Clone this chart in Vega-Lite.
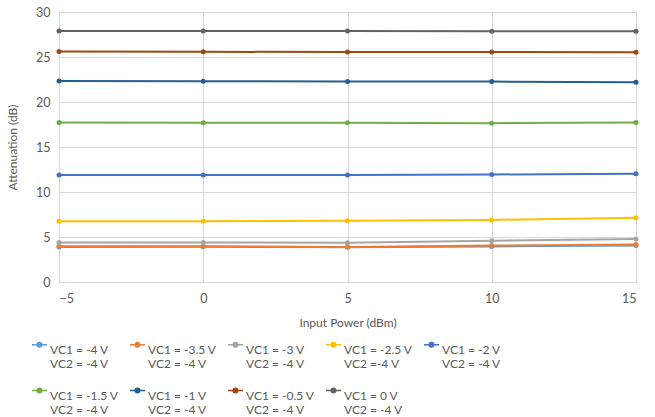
{
  "$schema": "https://vega.github.io/schema/vega-lite/v6.json",
  "width": 577,
  "height": 270,
  "autosize": {"type": "none"},
  "padding": {"left": 59, "top": 12, "right": 19, "bottom": 135},
  "background": "white",
  "config": {
    "font": "Lato",
    "view": {"stroke": null},
    "axis": {"labelFont": "Lato", "titleFont": "Lato", "labelColor": "#595959", "titleColor": "#595959", "labelFontSize": 12.5, "titleFontSize": 12, "titleFontWeight": "normal", "gridColor": "#d9d9d9", "gridWidth": 1, "ticks": false, "domain": false}
  },
  "data": {"values": [
    {"p": -5, "att": 3.9, "s": "VC1 = -4 V|VC2 = -4 V"},
    {"p": 0, "att": 3.92, "s": "VC1 = -4 V|VC2 = -4 V"},
    {"p": 5, "att": 3.85, "s": "VC1 = -4 V|VC2 = -4 V"},
    {"p": 10, "att": 3.95, "s": "VC1 = -4 V|VC2 = -4 V"},
    {"p": 15, "att": 4.05, "s": "VC1 = -4 V|VC2 = -4 V"},
    {"p": -5, "att": 3.97, "s": "VC1 = -3.5 V|VC2 = -4 V"},
    {"p": 0, "att": 3.97, "s": "VC1 = -3.5 V|VC2 = -4 V"},
    {"p": 5, "att": 3.9, "s": "VC1 = -3.5 V|VC2 = -4 V"},
    {"p": 10, "att": 4.05, "s": "VC1 = -3.5 V|VC2 = -4 V"},
    {"p": 15, "att": 4.17, "s": "VC1 = -3.5 V|VC2 = -4 V"},
    {"p": -5, "att": 4.4, "s": "VC1 = -3 V|VC2 = -4 V"},
    {"p": 0, "att": 4.4, "s": "VC1 = -3 V|VC2 = -4 V"},
    {"p": 5, "att": 4.37, "s": "VC1 = -3 V|VC2 = -4 V"},
    {"p": 10, "att": 4.58, "s": "VC1 = -3 V|VC2 = -4 V"},
    {"p": 15, "att": 4.77, "s": "VC1 = -3 V|VC2 = -4 V"},
    {"p": -5, "att": 6.75, "s": "VC1 = -2.5 V|VC2 =-4 V"},
    {"p": 0, "att": 6.75, "s": "VC1 = -2.5 V|VC2 =-4 V"},
    {"p": 5, "att": 6.8, "s": "VC1 = -2.5 V|VC2 =-4 V"},
    {"p": 10, "att": 6.9, "s": "VC1 = -2.5 V|VC2 =-4 V"},
    {"p": 15, "att": 7.15, "s": "VC1 = -2.5 V|VC2 =-4 V"},
    {"p": -5, "att": 11.9, "s": "VC1 = -2 V|VC2 = -4 V"},
    {"p": 0, "att": 11.88, "s": "VC1 = -2 V|VC2 = -4 V"},
    {"p": 5, "att": 11.9, "s": "VC1 = -2 V|VC2 = -4 V"},
    {"p": 10, "att": 11.95, "s": "VC1 = -2 V|VC2 = -4 V"},
    {"p": 15, "att": 12.02, "s": "VC1 = -2 V|VC2 = -4 V"},
    {"p": -5, "att": 17.72, "s": "VC1 = -1.5 V|VC2 = -4 V"},
    {"p": 0, "att": 17.7, "s": "VC1 = -1.5 V|VC2 = -4 V"},
    {"p": 5, "att": 17.7, "s": "VC1 = -1.5 V|VC2 = -4 V"},
    {"p": 10, "att": 17.65, "s": "VC1 = -1.5 V|VC2 = -4 V"},
    {"p": 15, "att": 17.72, "s": "VC1 = -1.5 V|VC2 = -4 V"},
    {"p": -5, "att": 22.32, "s": "VC1 = -1 V|VC2 = -4 V"},
    {"p": 0, "att": 22.3, "s": "VC1 = -1 V|VC2 = -4 V"},
    {"p": 5, "att": 22.28, "s": "VC1 = -1 V|VC2 = -4 V"},
    {"p": 10, "att": 22.27, "s": "VC1 = -1 V|VC2 = -4 V"},
    {"p": 15, "att": 22.2, "s": "VC1 = -1 V|VC2 = -4 V"},
    {"p": -5, "att": 25.6, "s": "VC1 = -0.5 V|VC2 = -4 V"},
    {"p": 0, "att": 25.58, "s": "VC1 = -0.5 V|VC2 = -4 V"},
    {"p": 5, "att": 25.55, "s": "VC1 = -0.5 V|VC2 = -4 V"},
    {"p": 10, "att": 25.55, "s": "VC1 = -0.5 V|VC2 = -4 V"},
    {"p": 15, "att": 25.52, "s": "VC1 = -0.5 V|VC2 = -4 V"},
    {"p": -5, "att": 27.9, "s": "VC1 = 0 V|VC2 = -4 V"},
    {"p": 0, "att": 27.9, "s": "VC1 = 0 V|VC2 = -4 V"},
    {"p": 5, "att": 27.88, "s": "VC1 = 0 V|VC2 = -4 V"},
    {"p": 10, "att": 27.87, "s": "VC1 = 0 V|VC2 = -4 V"},
    {"p": 15, "att": 27.85, "s": "VC1 = 0 V|VC2 = -4 V"}
  ]},
  "encoding": {
    "x": {"field": "p", "type": "quantitative", "scale": {"domain": [-5, 15], "nice": false, "zero": false}, "axis": {"values": [-5, 0, 5, 10, 15], "title": "Input Power (dBm)", "labelPadding": 10, "titlePadding": 13}},
    "y": {"field": "att", "type": "quantitative", "scale": {"domain": [0, 30], "nice": false}, "axis": {"values": [0, 5, 10, 15, 20, 25, 30], "title": "Attenuation (dB)", "labelPadding": 9, "titlePadding": 16}},
    "color": {
      "field": "s", "type": "nominal",
      "scale": {
        "domain": ["VC1 = -4 V|VC2 = -4 V", "VC1 = -3.5 V|VC2 = -4 V", "VC1 = -3 V|VC2 = -4 V", "VC1 = -2.5 V|VC2 =-4 V", "VC1 = -2 V|VC2 = -4 V", "VC1 = -1.5 V|VC2 = -4 V", "VC1 = -1 V|VC2 = -4 V", "VC1 = -0.5 V|VC2 = -4 V", "VC1 = 0 V|VC2 = -4 V"],
        "range": ["#5B9BD5", "#ED7D31", "#A5A5A5", "#FFC000", "#4472C4", "#70AD47", "#255E91", "#9E480E", "#636363"]
      },
      "legend": {
        "title": null, "orient": "none", "legendX": -28, "legendY": 324,
        "direction": "horizontal", "columns": 5, "gridAlign": "all",
        "columnPadding": 8, "rowPadding": 12,
        "labelExpr": "split(datum.label, '|')",
        "labelFont": "Lato", "labelFontSize": 12, "labelColor": "#595959", "labelLimit": 200, "labelOffset": 2,
        "labelBaseline": "top", "labelLineHeight": 19,
        "symbolType": "M-1,0H1M-0.3,0A0.3,0.3,0,1,1,0.3,0A0.3,0.3,0,1,1,-0.3,0Z",
        "symbolSize": 225, "symbolStrokeWidth": 1.5
      }
    }
  },
  "layer": [
    {"mark": {"type": "line", "strokeWidth": 2}},
    {"mark": {"type": "point", "filled": true, "size": 25, "opacity": 1}}
  ]
}
